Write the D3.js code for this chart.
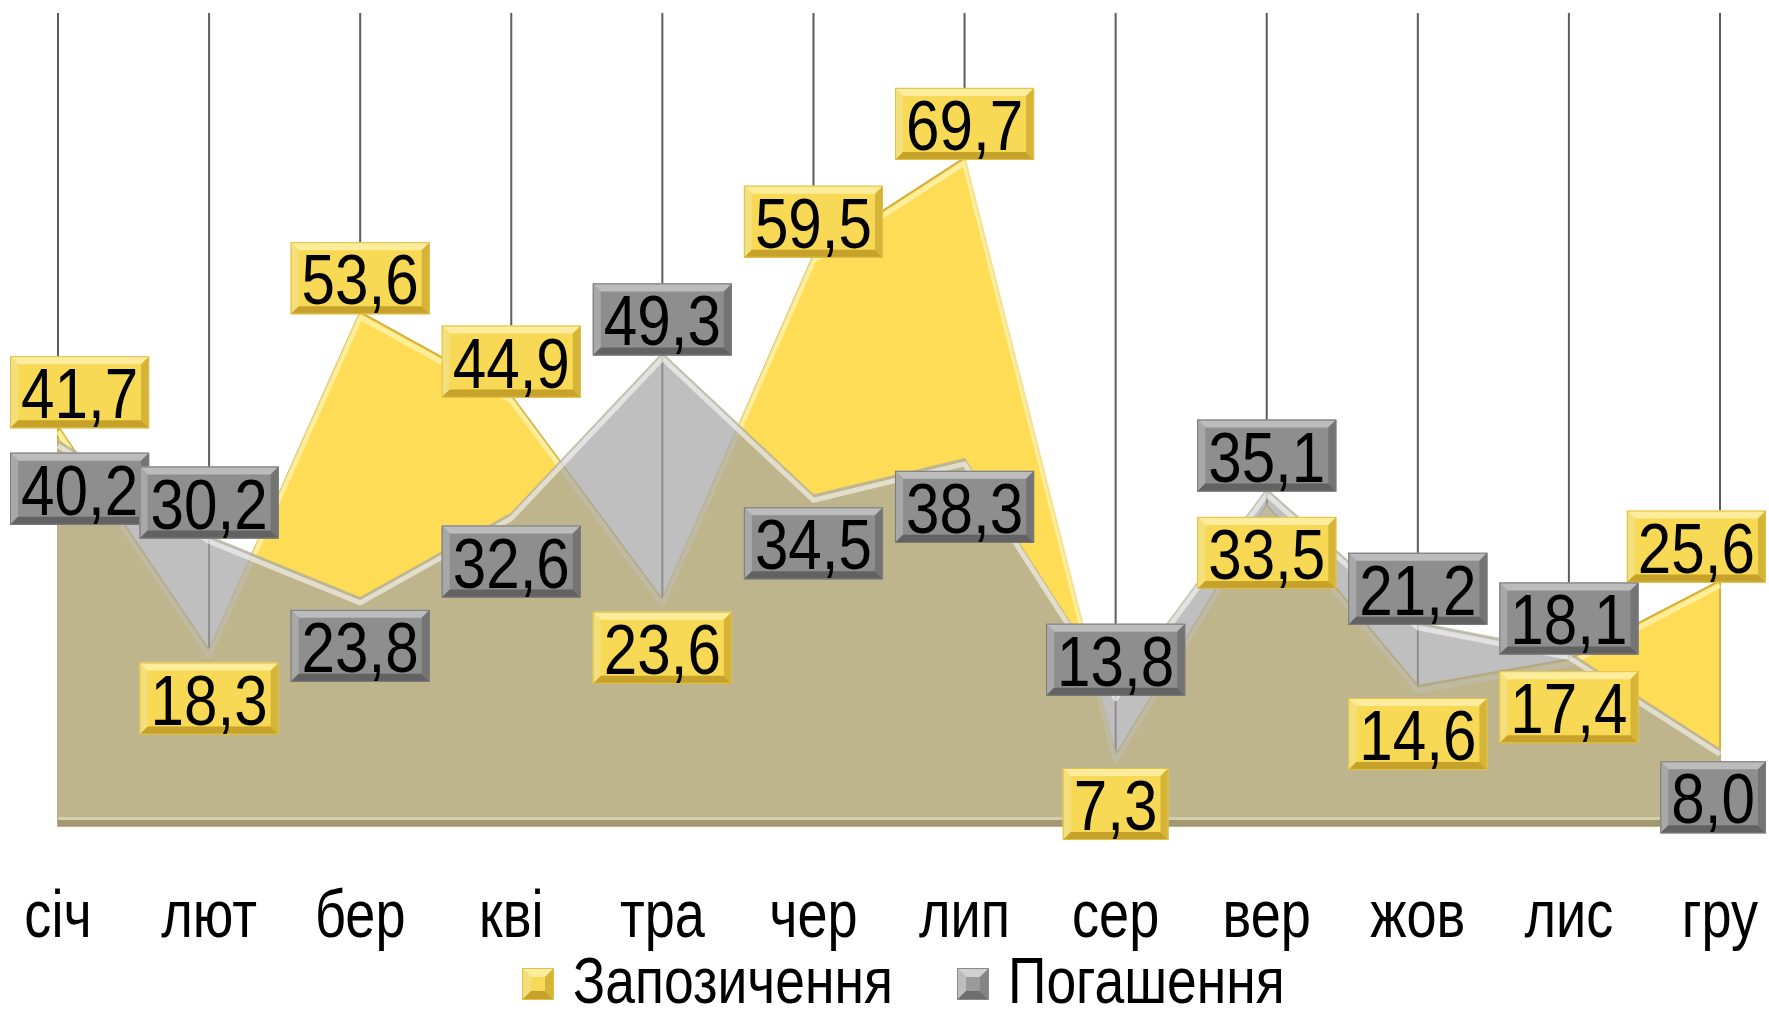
<!DOCTYPE html>
<html>
<head>
<meta charset="utf-8">
<script src="https://cdn.jsdelivr.net/npm/d3@7"></script>
<style>
  body { margin: 0; background: #fff; }
  svg { display: block; font-family: "Liberation Sans Narrow", "Liberation Sans", sans-serif; }
</style>
</head>
<body>
<div id="okvir"></div>
<script>
const mjeseci = ["січ", "лют", "бер", "кві", "тра", "чер", "лип", "сер", "вер", "жов", "лис", "гру"];
const zapozychennya = [41.7, 18.3, 53.6, 44.9, 23.6, 59.5, 69.7, 7.3, 33.5, 14.6, 17.4, 25.6];
const pogashennya = [40.2, 30.2, 23.8, 32.6, 49.3, 34.5, 38.3, 13.8, 35.1, 21.2, 18.1, 8.0];
const nazivySerij = ["Запозичення", "Погашення"];

function crtaj() {
    const dim = { sirina: 1769, visina: 1018, lijevo: 58, desno: 1720, vrh: 13, dno: 826 };

    const svg = d3.select("#okvir").append("svg")
        .attr("width", dim.sirina)
        .attr("height", dim.visina);

    const xSkala = d3.scalePoint()
        .domain(mjeseci)
        .range([dim.lijevo, dim.desno]);

    const ySkala = d3.scaleLinear()
        .domain([0, 70])
        .range([dim.dno, 155]);

    const boje = {
        zuta: { lice: "#f8d955", vrh: "#fcec9c", lijevo: "#f3df7c", dno: "#c6a22a", desno: "#d6b437", rub: "#e0c049" },
        siva: { lice: "#8e8e8e", vrh: "#bcbcbc", lijevo: "#a8a8a8", dno: "#626262", desno: "#747474", rub: "#7b7b7b" }
    };

    // okomite linije mreze
    svg.append("g").selectAll("line")
        .data(mjeseci)
        .join("line")
            .attr("x1", d => xSkala(d))
            .attr("x2", d => xSkala(d))
            .attr("y1", dim.vrh)
            .attr("y2", dim.dno)
            .attr("stroke", "#5d5d5d")
            .attr("stroke-width", 2);

    const serije = [
        { ime: nazivySerij[0], vrijednosti: zapozychennya, boja: "#ffdc55", opacity: 1, sjaj: "rgba(255,244,180,0.75)", obrub: "#d3b03c" },
        { ime: nazivySerij[1], vrijednosti: pogashennya, boja: "#a4a4a4", opacity: 0.7, sjaj: "rgba(255,255,255,0.55)", obrub: "#b8b49a" }
    ];

    const povrsina = d3.area()
        .x((d, i) => xSkala(mjeseci[i]))
        .y0(dim.dno)
        .y1(d => ySkala(d));

    const linija = d3.line()
        .x((d, i) => xSkala(mjeseci[i]))
        .y(d => ySkala(d));

    serije.forEach(s => {
        const g = svg.append("g");
        g.append("path")
            .attr("d", povrsina(s.vrijednosti))
            .attr("fill", s.boja)
            .attr("fill-opacity", s.opacity)
            .attr("stroke", s.obrub)
            .attr("stroke-opacity", s.opacity)
            .attr("stroke-width", 2);
        // 3D sjaj uz gornji rub
        g.append("path")
            .attr("d", linija(s.vrijednosti))
            .attr("transform", "translate(0,5)")
            .attr("fill", "none")
            .attr("stroke", s.sjaj)
            .attr("stroke-width", 5)
            .attr("stroke-linejoin", "round");
    });

    // donji rub povrsine
    svg.append("rect")
        .attr("x", dim.lijevo)
        .attr("y", dim.dno - 9)
        .attr("width", dim.desno - dim.lijevo)
        .attr("height", 3)
        .attr("fill", "rgba(255,255,235,0.35)");
    svg.append("rect")
        .attr("x", dim.lijevo)
        .attr("y", dim.dno - 6)
        .attr("width", dim.desno - dim.lijevo)
        .attr("height", 6)
        .attr("fill", "rgba(110,100,60,0.35)");

    function kutija(g, x, y, w, h, b, c) {
        g.append("rect").attr("x", x).attr("y", y).attr("width", w).attr("height", h).attr("fill", c.lice);
        const poly = (pts, fill) => g.append("polygon")
            .attr("points", pts.map(p => p.join(",")).join(" "))
            .attr("fill", fill);
        poly([[x, y], [x + w, y], [x + w - b, y + b], [x + b, y + b]], c.vrh);
        poly([[x, y], [x + b, y + b], [x + b, y + h - b], [x, y + h]], c.lijevo);
        poly([[x, y + h], [x + b, y + h - b], [x + w - b, y + h - b], [x + w, y + h]], c.dno);
        poly([[x + w, y], [x + w, y + h], [x + w - b, y + h - b], [x + w - b, y + b]], c.desno);
        g.append("rect").attr("x", x + 0.5).attr("y", y + 0.5).attr("width", w - 1).attr("height", h - 1)
            .attr("fill", "none").attr("stroke", c.rub).attr("stroke-width", 1);
    }

    // tekst suzen po x osi
    function tekst(g, x, y, size, txt, anchor, suzenje) {
        return g.append("text")
            .attr("transform", `translate(${x},${y}) scale(${suzenje},1)`)
            .attr("font-size", size)
            .attr("fill", "#000")
            .attr("text-anchor", anchor)
            .text(txt);
    }

    const format = v => d3.format(".1f")(v).replace(".", ",");
    const visinaKutije = 72;
    const suzenjeOznaka = 0.86;

    const oznake = svg.append("g");
    [[zapozychennya, pogashennya, boje.zuta], [pogashennya, zapozychennya, boje.siva]].forEach(([niz, drugi, c]) => {
        niz.forEach((v, i) => {
            const cx = xSkala(mjeseci[i]);
            const py = ySkala(v);
            const g = oznake.append("g");
            const t = tekst(g, 0, 0, 70, format(v), "middle", suzenjeOznaka);
            const sirinaTeksta = t.node().getComputedTextLength() * suzenjeOznaka;
            t.remove();
            const w = sirinaTeksta + 22;
            const gore = v >= drugi[i];
            const top = gore ? py + 2 - visinaKutije : py + 12;
            let x = cx - w / 2;
            x = Math.max(10, Math.min(dim.sirina - 3 - w, x));
            kutija(g, x, top, w, visinaKutije, 8, c);
            tekst(g, x + w / 2, top + 62, 70, format(v), "middle", suzenjeOznaka);
        });
    });

    // oznake mjeseci
    const osX = svg.append("g");
    mjeseci.forEach(m => {
        tekst(osX, xSkala(m), 937, 66, m, "middle", 0.82);
    });

    // legenda
    const legenda = svg.append("g");
    const legX = [522, 957];
    serije.forEach((s, i) => {
        const c = i === 0 ? boje.zuta : { lice: "#9a9a9a", vrh: "#d0d0d0", lijevo: "#bdbdbd", dno: "#6e6e6e", desno: "#858585", rub: "#8a8a8a" };
        const lg = legenda.append("g");
        kutija(lg, legX[i], 968, 32, 32, 9, c);
        tekst(lg, legX[i] + 51, 1003, 64, s.ime, "start", 0.835);
    });
}

crtaj();
</script>
</body>
</html>
